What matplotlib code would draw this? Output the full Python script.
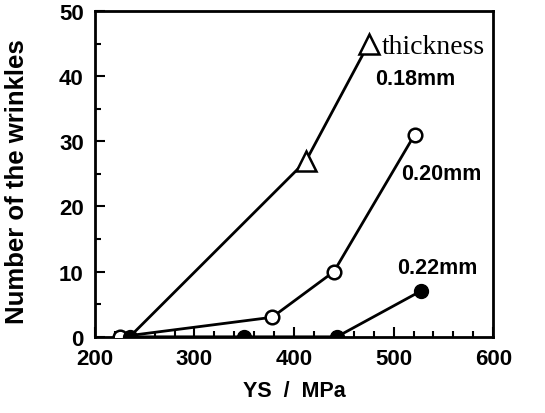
import numpy as np
import matplotlib.pyplot as plt
from matplotlib.ticker import MultipleLocator

# thickness 0.18 mm
ys_018 = [235, 412, 475]
n_018 = [0, 27, 45]
# thickness 0.20 mm
ys_020 = [225, 378, 440, 521]
n_020 = [0, 3, 10, 31]
# thickness 0.22 mm
ys_022 = [235, 350, 443, 527]
n_022 = [0, 0, 0, 7]

labels = ['0.18mm', '0.20mm', '0.22mm']

plt.rcParams['font.family'] = ['Liberation Sans', 'DejaVu Sans']
plt.rcParams['font.weight'] = 'bold'
plt.rcParams['axes.labelweight'] = 'bold'

fig = plt.figure(figsize=(5.45, 4.14), dpi=100)
ax = fig.add_axes([0.174, 0.184, 0.731, 0.787])

ax.plot(ys_018, n_018, color='black', lw=2.0, marker='^', ms=14,
        mfc='white', mec='black', mew=1.8, markevery=[1, 2], zorder=2)
ax.plot(ys_020, n_020, color='black', lw=2.0, marker='o', ms=9.8,
        mfc='white', mec='black', mew=1.8, zorder=3)
ax.plot(ys_022, n_022, color='black', lw=2.0, marker='o', ms=10,
        mfc='black', mec='black', zorder=4)

ax.text(488, 44.6, 'thickness', family='Liberation Serif', fontweight='normal',
        fontsize=20, va='center', ha='left')
ax.text(481, 39.6, labels[0], fontsize=15.5, va='center', ha='left')
ax.text(508, 25, labels[1], fontsize=15.5, va='center', ha='left')
ax.text(504, 10.7, labels[2], fontsize=15.5, va='center', ha='left')

ax.set_xlim(200, 600)
ax.set_ylim(0, 50)
ax.xaxis.set_major_locator(MultipleLocator(100))
ax.xaxis.set_minor_locator(MultipleLocator(20))
ax.yaxis.set_major_locator(MultipleLocator(10))
ax.yaxis.set_minor_locator(MultipleLocator(5))
ax.tick_params(which='both', direction='in', width=1.5, labelsize=16)
ax.tick_params(which='major', length=7, pad=8)
ax.tick_params(which='minor', length=4)
for s in ax.spines.values():
    s.set_linewidth(2.0)

ax.set_xlabel('YS  /  MPa', fontsize=15.5, labelpad=8)
ax.set_ylabel('Number of the wrinkles', fontsize=18.5)
ax.yaxis.set_label_coords(-0.165, 0.48)

fig.savefig('out.png', dpi=100)
